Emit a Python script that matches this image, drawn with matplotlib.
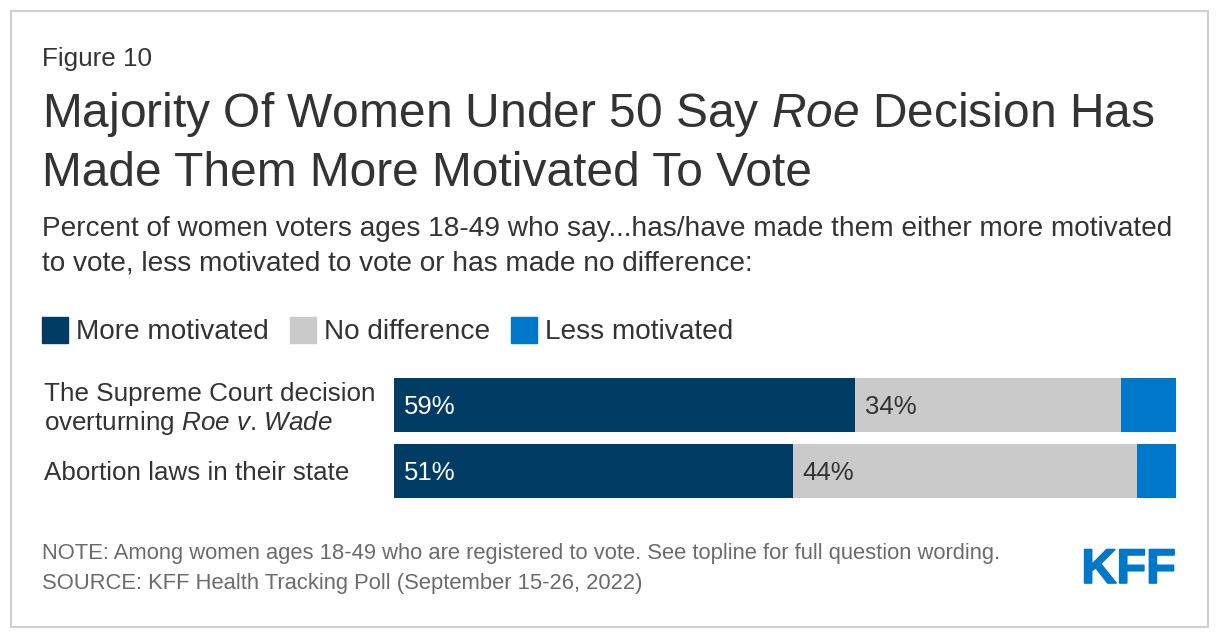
import numpy as np
import matplotlib.pyplot as plt
from matplotlib.patches import Rectangle
import matplotlib.patheffects as pe

plt.rcParams['font.family'] = ['Liberation Sans', 'DejaVu Sans']
plt.rcParams['mathtext.fontset'] = 'custom'
plt.rcParams['mathtext.rm'] = 'Liberation Sans'
plt.rcParams['mathtext.it'] = 'Liberation Sans:italic'

# Data
categories = [
    "The Supreme Court decision\noverturning $\\it{Roe}$ $\\it{v}$. $\\it{Wade}$",
    "Abortion laws in their state",
]
more_motivated = [59, 51]
no_difference = [34, 44]
less_motivated = [7, 5]
series_names = ["More motivated", "No difference", "Less motivated"]
colors = ["#003c64", "#cacaca", "#0077c8"]
label_colors = ["white", "#333333", None]

W, H = 1220, 640
TEXT = "#333333"


def fx(x):
    return x / W


def fy(y):
    return 1 - y / H


fig = plt.figure(figsize=(W / 100, H / 100), dpi=100)

# Bars
ax = fig.add_axes([fx(394), fy(504), (1176 - 394) / W, 132 / H])
y_pos = np.arange(len(categories))
left = np.zeros(len(categories))
for vals, name, c, lc in zip([more_motivated, no_difference, less_motivated],
                             series_names, colors, label_colors):
    ax.barh(y_pos, vals, left=left, height=54 / 66, color=c, label=name)
    if lc is not None:
        for yi, li, v in zip(y_pos, left, vals):
            ax.annotate(f"{v}%", xy=(li, yi), xytext=(7, 0),
                        textcoords="offset points", va="center_baseline",
                        ha="left", color=lc, fontsize=18.5)
    left += np.array(vals)

ax.set_xlim(0, 100)
ax.set_ylim(len(categories) - 0.5, -0.5)
ax.set_xticks([])
ax.set_yticks(y_pos)
ax.set_yticklabels(categories, fontsize=18.7, color=TEXT, ha="left",
                   linespacing=1.1)
ax.tick_params(axis="y", length=0, pad=252)
for s in ax.spines.values():
    s.set_visible(False)

# Header
fig.text(fx(42), fy(66), "Figure 10", fontsize=18.7, color=TEXT, va="baseline")
fig.text(fx(42), fy(127), "Majority Of Women Under 50 Say $\\it{Roe}$ Decision Has",
         fontsize=34.5, color=TEXT, va="baseline")
fig.text(fx(42), fy(186), "Made Them More Motivated To Vote",
         fontsize=34.5, color=TEXT, va="baseline")
fig.text(fx(42), fy(236),
         "Percent of women voters ages 18-49 who say...has/have made them either more motivated",
         fontsize=20.2, color=TEXT, va="baseline")
fig.text(fx(42), fy(271),
         "to vote, less motivated to vote or has made no difference:",
         fontsize=20.2, color=TEXT, va="baseline")

# Legend
for x0, name, c in zip([42, 290, 511], series_names, colors):
    fig.patches.append(Rectangle((fx(x0), fy(343)), 26 / W, 26 / H,
                                 transform=fig.transFigure, color=c))
    fig.text(fx(x0 + 34), fy(339), name, fontsize=20.2, color=TEXT, va="baseline")

# Footer
fig.text(fx(42), fy(559),
         "NOTE: Among women ages 18-49 who are registered to vote. See topline for full question wording.",
         fontsize=15.8, color="#6b6b6b", va="baseline")
fig.text(fx(42), fy(589), "SOURCE: KFF Health Tracking Poll (September 15-26, 2022)",
         fontsize=15.8, color="#6b6b6b", va="baseline")
fig.text(fx(1176), fy(583), "KFF", fontsize=35, fontweight="bold",
         color="#0077c8", ha="right", va="baseline",
         path_effects=[pe.withStroke(linewidth=1.2, foreground="#0077c8")])

# Border
fig.patches.append(Rectangle((fx(11), fy(627)), (1208 - 11) / W, (627 - 11) / H,
                             transform=fig.transFigure, fill=False,
                             ec="#d0d0d0", lw=1.5))

fig.savefig("out.png", dpi=100, facecolor="white")
